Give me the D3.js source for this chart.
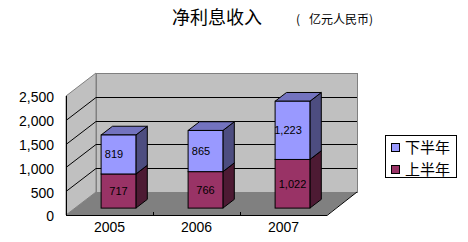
<!DOCTYPE html>
<html>
<head>
<meta charset="utf-8">
<script src="https://cdn.jsdelivr.net/npm/d3@7"></script>
<style>
  body { margin: 0; background: #fff; }
  svg { display: block; }
  .num { font-family: "Liberation Sans", Arial, sans-serif; }
  .cjk { font-family: "Noto Sans CJK SC", sans-serif; }
</style>
</head>
<body>
<svg width="468" height="242"></svg>
<script>
// ----------- DATA -----------
var years = ["2005", "2006", "2007"];
var firstHalf = [717, 766, 1022];    // 上半年
var secondHalf = [819, 865, 1223];   // 下半年
var seriesNames = ["下半年", "上半年"];
var yTicks = [0, 500, 1000, 1500, 2000, 2500];

// The svg
var svg = d3.select("svg"),
  width = +svg.attr("width"),
  height = +svg.attr("height");

// plot box (front plane) and 3d depth
var plotLeft = 66, plotRight = 327, plotTop = 96, plotBottom = 215;
var depthX = 30, depthY = 23;
var barFront = 0.3, barDepth = 0.38;

var x = d3.scaleBand()
  .domain(years)
  .range([plotLeft, plotRight]);

var y = d3.scaleLinear()
  .domain([0, 2500])
  .range([plotBottom, plotTop]);

var barW = x.bandwidth() * 0.4;
var fmt = d3.format(",");

function pts(arr) {
  return arr.map(function(p) { return p.join(","); }).join(" ");
}

// ----------- WALLS AND FLOOR -----------
// back wall
svg.append("rect")
  .attr("x", plotLeft + depthX + 0.5)
  .attr("y", Math.round(y(2500) - depthY) + 0.5)
  .attr("width", plotRight - plotLeft)
  .attr("height", y(0) - y(2500))
  .attr("fill", "#c0c0c0")
  .attr("stroke", "#808080");

// left side wall
svg.append("polygon")
  .attr("points", pts([[plotLeft, y(2500)], [plotLeft + depthX, y(2500) - depthY],
    [plotLeft + depthX, y(0) - depthY], [plotLeft, y(0)]]))
  .attr("fill", "#c0c0c0")
  .attr("stroke", "#808080");

// floor
svg.append("polygon")
  .attr("points", pts([[plotLeft, y(0)], [plotLeft + depthX, y(0) - depthY],
    [plotRight + depthX, y(0) - depthY], [plotRight, y(0)]]))
  .attr("fill", "#808080")
  .attr("stroke", "none");

// gridlines on back wall and side wall
var grid = svg.append("g").attr("stroke", "#000").attr("stroke-width", 1);
yTicks.filter(function(v) { return v > 0 && v < 2500; }).forEach(function(v) {
  var yb = Math.round(y(v) - depthY) + 0.5;
  grid.append("line")
    .attr("x1", plotLeft + depthX).attr("x2", plotRight + depthX)
    .attr("y1", yb).attr("y2", yb);
  grid.append("line")
    .attr("x1", plotLeft).attr("x2", plotLeft + depthX)
    .attr("y1", Math.round(y(v)) + 0.5).attr("y2", yb);
});

// axes lines
svg.append("line")
  .attr("x1", plotLeft + 0.5).attr("x2", plotLeft + 0.5)
  .attr("y1", y(2500)).attr("y2", y(0))
  .attr("stroke", "#000");
svg.append("line")
  .attr("x1", plotLeft).attr("x2", plotRight)
  .attr("y1", y(0) + 0.5).attr("y2", y(0) + 0.5)
  .attr("stroke", "#000");
svg.append("line")
  .attr("x1", plotRight).attr("x2", plotRight + depthX)
  .attr("y1", y(0) + 0.5).attr("y2", y(0) - depthY)
  .attr("stroke", "#000");

// x ticks between categories
years.slice(1).forEach(function(d) {
  svg.append("line")
    .attr("x1", Math.round(x(d)) + 0.5).attr("x2", Math.round(x(d)) + 0.5)
    .attr("y1", y(0)).attr("y2", y(0) - 3)
    .attr("stroke", "#000");
});

// y labels
svg.append("g")
  .selectAll("text")
  .data(yTicks)
  .enter()
  .append("text")
  .attr("class", "num")
  .attr("x", 54)
  .attr("y", function(d) { return y(d); })
  .attr("dy", "0.46em")
  .attr("text-anchor", "end")
  .attr("font-size", 14)
  .text(function(d) { return fmt(d); });

// x labels
svg.append("g")
  .selectAll("text")
  .data(years)
  .enter()
  .append("text")
  .attr("class", "num")
  .attr("x", function(d) { return x(d) + x.bandwidth() / 2; })
  .attr("y", 232)
  .attr("text-anchor", "middle")
  .attr("font-size", 14)
  .text(function(d) { return d; });

// ----------- 3D STACKED BARS -----------
var colors = {
  low: { front: "#993366", top: "#73264d", side: "#4d1a33" },
  high: { front: "#9999ff", top: "#7373bf", side: "#4d4d80" }
};

function drawBox(g, x0, y0, y1, c) {
  // x0 = front left, y0 = bottom value px, y1 = top value px
  var ox = depthX * barFront, oy = depthY * barFront;
  var bx = depthX * barDepth, by = depthY * barDepth;
  var fx = x0 + ox, fb = y0 - oy, ft = y1 - oy;
  g.append("polygon")
    .attr("points", pts([[fx + barW, ft], [fx + barW + bx, ft - by],
      [fx + barW + bx, fb - by], [fx + barW, fb]]))
    .attr("fill", c.side).attr("stroke", "#000");
  g.append("polygon")
    .attr("points", pts([[fx, ft], [fx + bx, ft - by],
      [fx + barW + bx, ft - by], [fx + barW, ft]]))
    .attr("fill", c.top).attr("stroke", "#000");
  g.append("rect")
    .attr("x", fx).attr("y", ft)
    .attr("width", barW).attr("height", fb - ft)
    .attr("fill", c.front).attr("stroke", "#000");
}

var bars = svg.append("g");
years.forEach(function(d, i) {
  var x0 = x(d) + (x.bandwidth() - barW) / 2;
  var total = firstHalf[i] + secondHalf[i];
  drawBox(bars, x0, y(0), y(firstHalf[i]), colors.low);
  drawBox(bars, x0, y(firstHalf[i]), y(total), colors.high);

  var cx = x0 + depthX * barFront + barW / 2;
  var oy = depthY * barFront;
  bars.append("text")
    .attr("class", "num")
    .attr("x", cx)
    .attr("y", (y(0) + y(firstHalf[i])) / 2 - oy)
    .attr("dy", "0.36em")
    .attr("text-anchor", "middle")
    .attr("font-size", 11)
    .text(fmt(firstHalf[i]));
  bars.append("text")
    .attr("class", "num")
    .attr("x", cx - 4.5)
    .attr("y", (y(firstHalf[i]) + y(total)) / 2 - oy)
    .attr("dy", "0.36em")
    .attr("text-anchor", "middle")
    .attr("font-size", 11)
    .text(fmt(secondHalf[i]));
});

// ----------- TITLE -----------
svg.append("text")
  .attr("class", "cjk")
  .attr("x", 172)
  .attr("y", 24)
  .attr("font-size", 18)
  .text("净利息收入");
var sub = svg.append("text")
  .attr("class", "cjk")
  .attr("y", 24)
  .attr("font-size", 12);
sub.append("tspan").attr("x", 296).text("(");
sub.append("tspan").attr("x", 309).text("亿元人民币)");

// ----------- LEGEND -----------
var legend = svg.append("g");
legend.append("rect")
  .attr("x", 385.5).attr("y", 135.5)
  .attr("width", 71).attr("height", 42)
  .attr("fill", "#fff").attr("stroke", "#000");
[colors.high.front, colors.low.front].forEach(function(c, i) {
  legend.append("rect")
    .attr("x", 391.5).attr("y", 143.5 + i * 22)
    .attr("width", 8).attr("height", 8)
    .attr("fill", c).attr("stroke", "#000");
  legend.append("text")
    .attr("class", "cjk")
    .attr("x", 405)
    .attr("y", 153 + i * 22)
    .attr("font-size", 15)
    .text(seriesNames[i]);
});
</script>
</body>
</html>
